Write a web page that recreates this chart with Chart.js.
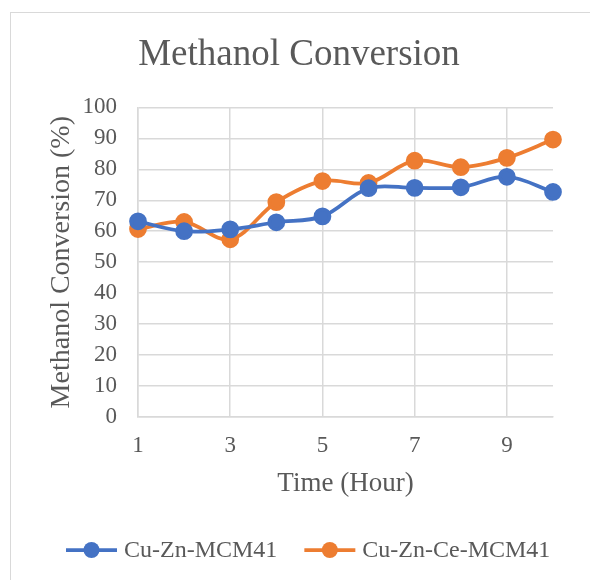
<!DOCTYPE html>
<html>
<head>
<meta charset="utf-8">
<script src="https://cdn.jsdelivr.net/npm/chart.js@4.4.1/dist/chart.umd.min.js"></script>
<style>
  html, body { margin: 0; padding: 0; background: #fff; overflow: hidden; }
  #wrap { position: relative; width: 590px; height: 580px; }
  #frame { position: absolute; left: 10px; top: 12px; width: 620px; height: 620px; border: 1px solid #d9d9d9; }
  canvas { position: absolute; left: 0; top: 0; }
</style>
</head>
<body>
<div id="wrap">
  <div id="frame"></div>
  <canvas id="chart" width="590" height="580"></canvas>
</div>
<script>
// data
const hours = ['1', '2', '3', '4', '5', '6', '7', '8', '9', '10'];
const cuZn = [63.2, 60.0, 60.6, 62.9, 64.8, 73.9, 74.0, 74.2, 77.6, 72.7];
const cuZnCe = [60.7, 63.0, 57.4, 69.4, 76.2, 75.6, 82.8, 80.7, 83.7, 89.6];
const yTicks = { min: 0, max: 100, step: 10 };

const BLUE = '#4472C4';
const ORANGE = '#ED7D31';
const TEXT = '#595959';
const GRID = '#d9d9d9';
const SERIF = "'Liberation Serif', 'Times New Roman', serif";

// Excel-style legend (line + dot), drawn by hand so it stays on one row
const excelLegend = {
    id: 'excelLegend',
    afterDraw(chart) {
        const ctx = chart.ctx;
        const y = 550;
        let x = 66;
        ctx.save();
        ctx.font = `24px ${SERIF}`;
        ctx.textBaseline = 'middle';
        ctx.textAlign = 'left';
        chart.data.datasets.forEach(ds => {
            ctx.strokeStyle = ds.borderColor;
            ctx.lineWidth = 3.75;
            ctx.beginPath();
            ctx.moveTo(x, y);
            ctx.lineTo(x + 51, y);
            ctx.stroke();
            ctx.fillStyle = ds.borderColor;
            ctx.beginPath();
            ctx.arc(x + 25.5, y, 8, 0, Math.PI * 2);
            ctx.fill();
            ctx.fillStyle = TEXT;
            ctx.fillText(ds.label, x + 58, y + 1);
            x += 58 + ctx.measureText(ds.label).width + 27;
        });
        ctx.restore();
    }
};

function series(label, data, color) {
    return {
        label,
        data,
        borderColor: color,
        backgroundColor: color,
        borderWidth: 3.75,
        pointRadius: 7,
        pointHoverRadius: 7,
        pointBackgroundColor: color,
        pointBorderColor: color,
        tension: 0.35,
        fill: false
    };
}

new Chart(document.getElementById('chart'), {
    type: 'line',
    data: {
        labels: hours,
        datasets: [
            series('Cu-Zn-MCM41', cuZn, BLUE),
            series('Cu-Zn-Ce-MCM41', cuZnCe, ORANGE)
        ]
    },
    plugins: [excelLegend],
    options: {
        responsive: false,
        animation: false,
        layout: { padding: { left: 45, right: 37, top: 12, bottom: 70 } },
        plugins: {
            tooltip: { enabled: false },
            legend: { display: false },
            title: {
                display: true,
                text: 'Methanol Conversion',
                color: TEXT,
                font: { family: SERIF, size: 37, weight: 'normal' },
                padding: { top: 21, bottom: 30 }
            }
        },
        scales: {
            x: {
                offset: false,
                afterFit: scale => { scale.height = 93; },
                grid: {
                    color: ctx => (ctx.index % 2 === 0 ? GRID : 'rgba(0,0,0,0)'),
                    lineWidth: 1.5,
                    drawTicks: false
                },
                border: { color: GRID, width: 1.5 },
                ticks: {
                    autoSkip: false,
                    maxRotation: 0,
                    padding: 15,
                    color: TEXT,
                    font: { family: SERIF, size: 23 },
                    callback: (v, i) => (i % 2 === 0 ? hours[i] : '')
                },
                title: {
                    display: true,
                    text: 'Time (Hour)',
                    color: TEXT,
                    font: { family: SERIF, size: 27 },
                    padding: { top: 9, bottom: 10 }
                }
            },
            y: {
                min: yTicks.min,
                max: yTicks.max,
                afterFit: scale => { scale.width = 93; },
                grid: { color: GRID, lineWidth: 1.5, drawTicks: false },
                border: { color: GRID, width: 1.5 },
                ticks: {
                    stepSize: yTicks.step,
                    autoSkip: false,
                    padding: 21,
                    color: TEXT,
                    font: { family: SERIF, size: 23 }
                },
                title: {
                    display: true,
                    text: 'Methanol Conversion (%)',
                    color: TEXT,
                    font: { family: SERIF, size: 28 },
                    padding: { top: 0, bottom: 6 }
                }
            }
        }
    }
});
</script>
</body>
</html>
